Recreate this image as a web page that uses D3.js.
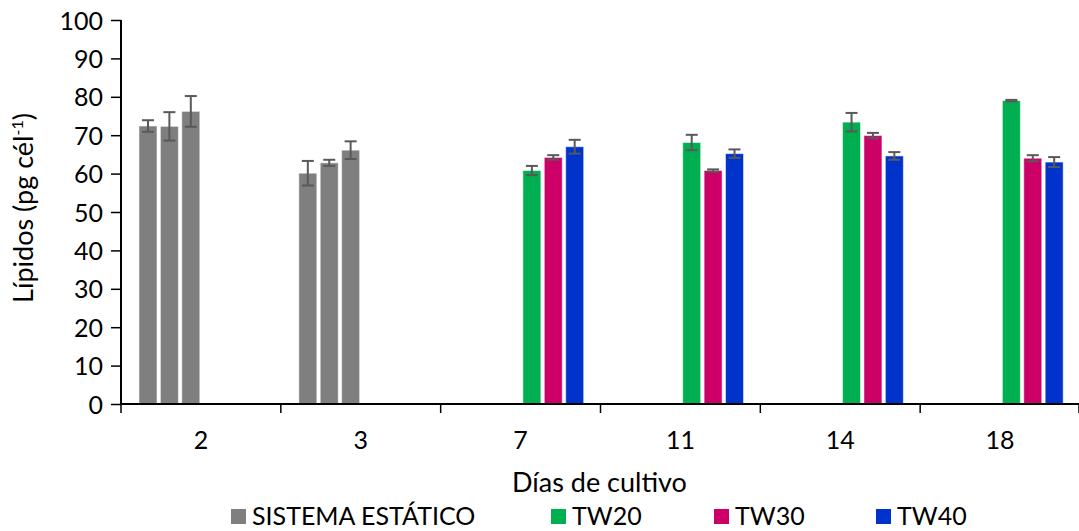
<!DOCTYPE html>
<html>
<head>
<meta charset="utf-8">
<script src="https://cdn.jsdelivr.net/npm/d3@7"></script>
<style>
  body { margin: 0; background: #fff; }
  svg text { font-family: Lato, "Open Sans", sans-serif; fill: #000; }
</style>
</head>
<body>
<script>
// categories (días de cultivo)
var days = ["2", "3", "7", "11", "14", "18"];

// series values, one slot per bar inside each day group
var est1 = [72.4, 60.1, 0, 0, 0, 0];
var est2 = [72.3, 62.8, 0, 0, 0, 0];
var est3 = [76.2, 66.1, 0, 0, 0, 0];
var tw20 = [0, 0, 60.8, 68.1, 73.4, 79.0];
var tw30 = [0, 0, 64.2, 60.8, 69.9, 64.0];
var tw40 = [0, 0, 67.0, 65.2, 64.6, 63.0];

// error bars (+/-)
var est1Err = [1.5, 3.2, 0, 0, 0, 0];
var est2Err = [3.7, 0.8, 0, 0, 0, 0];
var est3Err = [4.0, 2.3, 0, 0, 0, 0];
var tw20Err = [0, 0, 1.2, 2.0, 2.4, 0.2];
var tw30Err = [0, 0, 0.6, 0.3, 0.7, 0.8];
var tw40Err = [0, 0, 1.8, 1.1, 1.0, 1.3];

var yTicks = [0, 10, 20, 30, 40, 50, 60, 70, 80, 90, 100];

var legendNames = ["SISTEMA ESTÁTICO", "TW20", "TW30", "TW40"];
var legendColors = ["#7f7f7f", "#00b050", "#cc0066", "#0033cc"];

var series = [
  {key: "e1", values: est1, err: est1Err, color: "#7f7f7f"},
  {key: "e2", values: est2, err: est2Err, color: "#7f7f7f"},
  {key: "e3", values: est3, err: est3Err, color: "#7f7f7f"},
  {key: "tw20", values: tw20, err: tw20Err, color: "#00b050"},
  {key: "tw30", values: tw30, err: tw30Err, color: "#cc0066"},
  {key: "tw40", values: tw40, err: tw40Err, color: "#0033cc"}
];

var width = 1079, height = 531;
var margin = {top: 20, right: -1, bottom: 127, left: 121};
var plotW = width - margin.left - margin.right,
    plotH = height - margin.top - margin.bottom;

var svg = d3.select("body").append("svg")
  .attr("width", width)
  .attr("height", height);

var g = svg.append("g")
  .attr("transform", "translate(" + margin.left + "," + margin.top + ")");

var x0 = d3.scaleBand().domain(days).range([0, plotW]);
var x1 = d3.scaleBand().domain(series.map(function(s) { return s.key; }))
  .range([18, 143]).paddingInner(0.16);
var y = d3.scaleLinear().domain([0, 100]).range([plotH, 0]);

// flatten to one record per bar
var bars = [];
series.forEach(function(s) {
  days.forEach(function(d, i) {
    bars.push({day: d, key: s.key, v: s.values[i], e: s.err[i], color: s.color});
  });
});

g.selectAll("rect.bar")
  .data(bars.filter(function(b) { return b.v > 0; }))
  .enter().append("rect")
  .attr("class", "bar")
  .attr("x", function(b) { return x0(b.day) + x1(b.key); })
  .attr("width", x1.bandwidth())
  .attr("y", function(b) { return y(b.v); })
  .attr("height", function(b) { return y(0) - y(b.v); })
  .attr("fill", function(b) { return b.color; })
  .attr("stroke", "#ffffff")
  .attr("stroke-opacity", 0.5)
  .attr("stroke-width", 1);

// error bars
var eg = g.selectAll("g.err")
  .data(bars)
  .enter().append("g")
  .attr("class", "err")
  .attr("stroke", "#595959")
  .attr("stroke-width", 2);

var cap = 6;
eg.append("line")
  .attr("x1", function(b) { return x0(b.day) + x1(b.key) + x1.bandwidth() / 2; })
  .attr("x2", function(b) { return x0(b.day) + x1(b.key) + x1.bandwidth() / 2; })
  .attr("y1", function(b) { return y(b.v + b.e); })
  .attr("y2", function(b) { return y(Math.max(0, b.v - b.e)); });
eg.append("line")
  .attr("x1", function(b) { return x0(b.day) + x1(b.key) + x1.bandwidth() / 2 - cap; })
  .attr("x2", function(b) { return x0(b.day) + x1(b.key) + x1.bandwidth() / 2 + cap; })
  .attr("y1", function(b) { return y(b.v + b.e); })
  .attr("y2", function(b) { return y(b.v + b.e); });
eg.append("line")
  .attr("x1", function(b) { return x0(b.day) + x1(b.key) + x1.bandwidth() / 2 - cap; })
  .attr("x2", function(b) { return x0(b.day) + x1(b.key) + x1.bandwidth() / 2 + cap; })
  .attr("y1", function(b) { return y(Math.max(0, b.v - b.e)); })
  .attr("y2", function(b) { return y(Math.max(0, b.v - b.e)); });

// y axis
var yAxis = g.append("g")
  .call(d3.axisLeft(y).tickValues(yTicks).tickSize(10).tickPadding(8));
yAxis.select(".domain").attr("stroke", "#000").attr("stroke-width", 2)
  .attr("d", "M0," + (plotH + 0.5) + "V0");
yAxis.selectAll(".tick line").attr("stroke", "#000").attr("stroke-width", 1.5);
yAxis.selectAll(".tick text").style("font-size", "25px").attr("dy", "0.36em");

// x axis with ticks on category boundaries
var xAxis = g.append("g").attr("transform", "translate(0," + plotH + ")");
xAxis.append("line")
  .attr("x1", 0).attr("x2", plotW)
  .attr("stroke", "#000").attr("stroke-width", 2);
xAxis.selectAll("line.bound")
  .data(days.concat(["end"]))
  .enter().append("line")
  .attr("class", "bound")
  .attr("x1", function(d, i) { return i < days.length ? x0(d) : plotW - 1; })
  .attr("x2", function(d, i) { return i < days.length ? x0(d) : plotW - 1; })
  .attr("y1", 0).attr("y2", 9)
  .attr("stroke", "#000").attr("stroke-width", 1.5);
xAxis.selectAll("text.lab")
  .data(days)
  .enter().append("text")
  .attr("class", "lab")
  .attr("x", function(d) { return x0(d) + x0.bandwidth() / 2; })
  .attr("y", 45)
  .attr("text-anchor", "middle")
  .style("font-size", "25px")
  .text(function(d) { return d; });

// axis titles
svg.append("text")
  .attr("x", margin.left + plotW / 2 - 1)
  .attr("y", 492)
  .attr("text-anchor", "middle")
  .style("font-size", "27px")
  .text("Días de cultivo");

var yt = svg.append("text")
  .attr("transform", "translate(33," + 208 + ") rotate(-90)")
  .attr("text-anchor", "middle")
  .style("font-size", "27px");
yt.append("tspan").text("Lípidos (pg cél");
yt.append("tspan").attr("dy", -10).style("font-size", "16px").text("-1");
yt.append("tspan").attr("dy", 10).text(")");

// legend
var legX = [231, 551, 714, 876];
var leg = svg.selectAll("g.leg")
  .data(legendNames)
  .enter().append("g")
  .attr("class", "leg")
  .attr("transform", function(d, i) { return "translate(" + legX[i] + ",509)"; });
leg.append("rect")
  .attr("width", 15).attr("height", 15)
  .attr("fill", function(d, i) { return legendColors[i]; });
leg.append("text")
  .attr("x", 21).attr("y", 16)
  .style("font-size", "25px")
  .text(function(d) { return d; });
</script>
</body>
</html>
